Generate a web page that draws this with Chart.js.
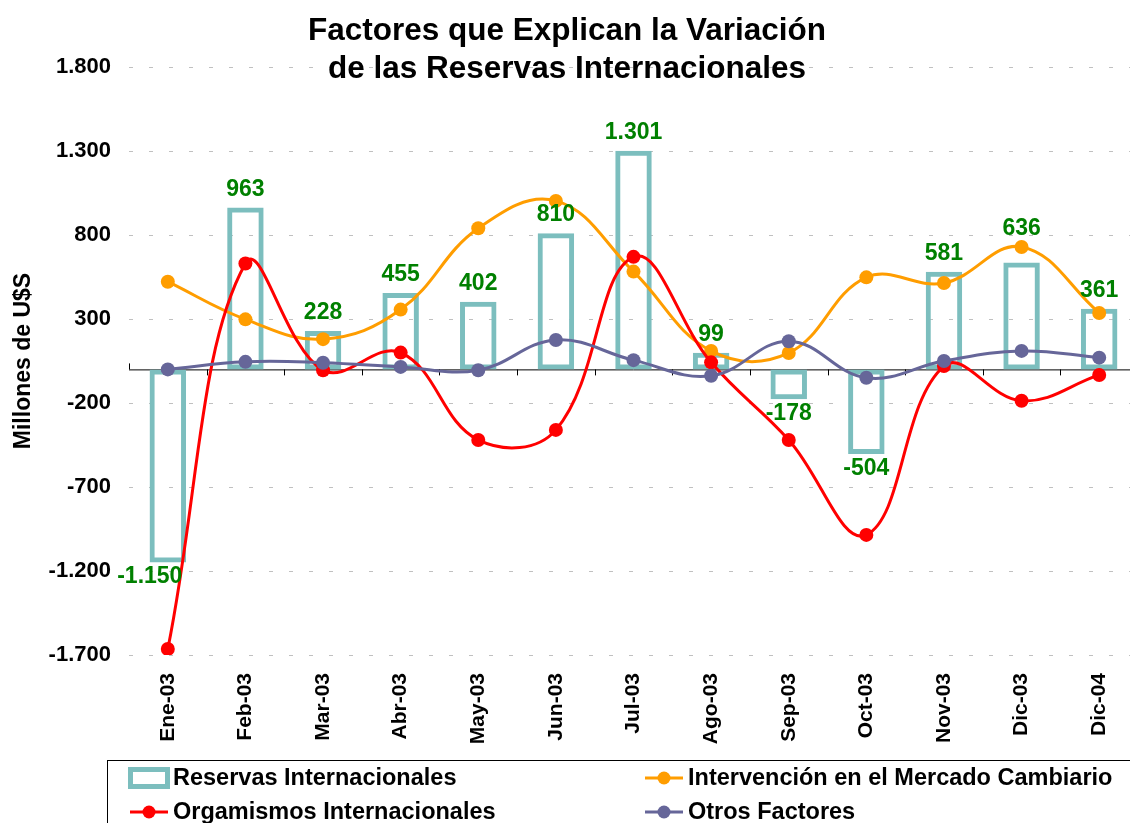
<!DOCTYPE html>
<html>
<head>
<meta charset="utf-8">
<script src="https://cdn.jsdelivr.net/npm/chart.js@4"></script>
<style>
  html, body { margin: 0; padding: 0; background: #fff; overflow: hidden; }
  #wrap { width: 1145px; height: 823px; }
</style>
</head>
<body>
<div id="wrap"><canvas id="chart" width="1145" height="823"></canvas></div>
<script>
// months on the x axis
const months = ["Ene-03", "Feb-03", "Mar-03", "Abr-03", "May-03", "Jun-03", "Jul-03",
                "Ago-03", "Sep-03", "Oct-03", "Nov-03", "Dic-03", "Dic-04"];
// bars
const reservas = [-1150, 963, 228, 455, 402, 810, 1301, 99, -178, -504, 581, 636, 361];
// lines
const intervencion = [522, 298, 180, 356, 840, 1003, 582, 110, 98, 548, 514, 729, 336];
const organismos = [-1664, 630, -5, 100, -420, -360, 670, 42, -420, -985, 20, -187, -33];
const otros = [0, 45, 40, 15, -5, 175, 55, -38, 168, -50, 50, 110, 70];
const yTicks = [-1700, -1200, -700, -200, 300, 800, 1300, 1800];

const FONT = "'Liberation Sans', Arial, sans-serif";

// a couple of labels were moved by hand in the original
const labelNudge = { 0: [-18, 0], 11: [0, -16] };

// 1301 -> "1.301"
function fmt(v) {
  const s = Math.abs(Math.round(v)).toString().replace(/\B(?=(\d{3})+(?!\d))/g, ".");
  return (v < 0 ? "-" : "") + s;
}

const extras = {
  id: "extras",
  beforeDatasetsDraw(chart) {
    const ctx = chart.ctx, a = chart.chartArea;
    const y0 = chart.scales.y.getPixelForValue(0);
    const x = chart.scales.x;
    ctx.save();
    ctx.strokeStyle = "#000";
    ctx.lineWidth = 1;
    ctx.beginPath();
    ctx.moveTo(a.left, y0 + 0.5);
    ctx.lineTo(a.right, y0 + 0.5);
    // tick marks between categories
    for (let i = 0; i < months.length; i++) {
      const bx = Math.round((x.getPixelForValue(i) + x.getPixelForValue(i + 1)) / 2) + 0.5;
      ctx.moveTo(bx, y0);
      ctx.lineTo(bx, y0 + 6);
    }
    ctx.moveTo(a.left + 0.5, y0 - 6);
    ctx.lineTo(a.left + 0.5, y0);
    ctx.stroke();
    ctx.restore();
  },
  afterDraw(chart) {
    const ctx = chart.ctx;
    ctx.save();
    // value labels on the bars
    const meta = chart.getDatasetMeta(0);
    ctx.font = "bold 23px " + FONT;
    ctx.fillStyle = "#008000";
    ctx.textAlign = "center";
    meta.data.forEach((bar, i) => {
      const v = reservas[i];
      const [dx, dy] = labelNudge[i] || [0, 0];
      if (v >= 0) {
        ctx.textBaseline = "alphabetic";
        ctx.fillText(fmt(v), bar.x + dx, bar.y - 12 + dy);
      } else {
        ctx.textBaseline = "top";
        ctx.fillText(fmt(v), bar.x + dx, bar.y + 3 + dy);
      }
    });

    // title
    ctx.fillStyle = "#000";
    ctx.font = "bold 31.5px " + FONT;
    ctx.textBaseline = "middle";
    ctx.fillText("Factores que Explican la Variación", 567, 31);
    ctx.fillText("de las Reservas Internacionales", 567, 69);

    // legend box
    ctx.strokeStyle = "#000";
    ctx.lineWidth = 1;
    ctx.strokeRect(107.5, 760.5, 1100, 100);
    const ds = chart.data.datasets;
    const slots = [[128, 778], [643, 778], [128, 812], [643, 812]];
    ds.forEach((d, i) => {
      const [sx, sy] = slots[i];
      if (d.type === "bar") {
        ctx.strokeStyle = d.borderColor;
        ctx.lineWidth = 5;
        ctx.strokeRect(sx + 2.5, sy - 8.5, 37, 17);
      } else {
        ctx.strokeStyle = d.borderColor;
        ctx.lineWidth = 3;
        ctx.beginPath();
        ctx.moveTo(sx + 2, sy);
        ctx.lineTo(sx + 40, sy);
        ctx.stroke();
        ctx.fillStyle = d.backgroundColor;
        ctx.beginPath();
        ctx.arc(sx + 21, sy, 6.5, 0, Math.PI * 2);
        ctx.fill();
      }
      ctx.fillStyle = "#000";
      ctx.font = "bold 23.5px " + FONT;
      ctx.textAlign = "left";
      ctx.textBaseline = "middle";
      ctx.fillText(d.label, sx + 45, sy + 1);
    });
    ctx.restore();
  }
};

const lineStyle = (color) => ({
  type: "line",
  borderColor: color,
  backgroundColor: color,
  borderWidth: 3,
  pointRadius: 7,
  pointHoverRadius: 7,
  pointBorderWidth: 0,
  tension: 0.4,
  fill: false
});

new Chart(document.getElementById("chart"), {
  data: {
    labels: months,
    datasets: [
      {
        type: "bar",
        label: "Reservas Internacionales",
        data: reservas,
        backgroundColor: "rgba(255,255,255,0)",
        borderColor: "#7cbebe",
        borderWidth: 5,
        borderSkipped: false,
        barPercentage: 0.47,
        categoryPercentage: 1,
        order: 4
      },
      { ...lineStyle("#ff9d00"), label: "Intervención en el Mercado Cambiario", data: intervencion, order: 3 },
      { ...lineStyle("#ff0000"), label: "Orgamismos Internacionales", data: organismos, order: 2 },
      { ...lineStyle("#666699"), label: "Otros Factores", data: otros, order: 1 }
    ]
  },
  options: {
    responsive: false,
    animation: false,
    layout: { padding: { top: 67, bottom: 63, left: 0, right: 2 } },
    plugins: {
      legend: { display: false },
      title: { display: false },
      tooltip: { enabled: false }
    },
    scales: {
      x: {
        grid: { display: false },
        border: { display: false },
        ticks: {
          minRotation: 90,
          maxRotation: 90,
          padding: 10,
          color: "#000",
          font: { family: FONT, size: 21, weight: "bold" }
        },
        afterFit(scale) { scale.height = 105; }
      },
      y: {
        min: -1700,
        max: 1800,
        afterBuildTicks(scale) { scale.ticks = yTicks.map(v => ({ value: v })); },
        border: { display: false, dash: [4, 16] },
        grid: {
          color: "#c0c0c0",
          lineWidth: 1,
          drawTicks: false
        },
        ticks: {
          padding: 18,
          color: "#000",
          font: { family: FONT, size: 22, weight: "bold" },
          callback: (v) => fmt(v)
        },
        title: {
          display: true,
          text: "Millones de U$S",
          color: "#000",
          font: { family: FONT, size: 23, weight: "bold" },
          padding: { top: 10, bottom: 0 }
        },
        afterFit(scale) { scale.width = 129; }
      }
    }
  },
  plugins: [extras]
});
</script>
</body>
</html>
